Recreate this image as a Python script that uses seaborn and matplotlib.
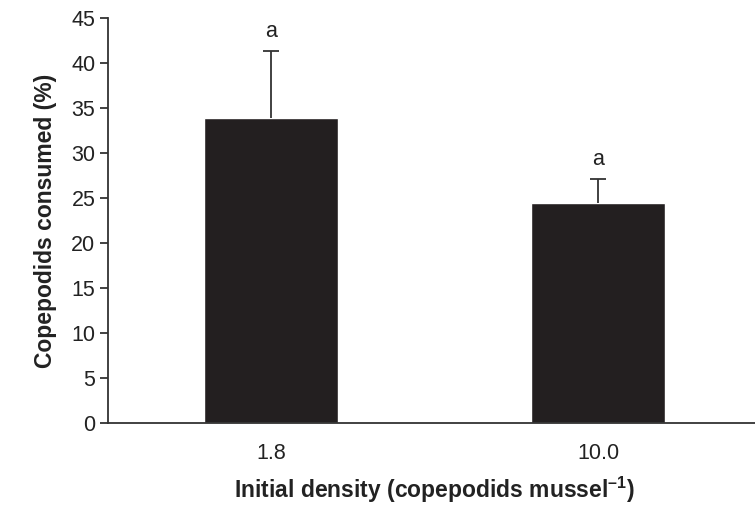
import matplotlib
matplotlib.use("Agg")
import matplotlib.pyplot as plt
import seaborn as sns
import pandas as pd

densities = ["1.8", "10.0"]
consumed = [33.9, 24.5]
err_upper = [7.4, 2.6]
letters = ["a", "a"]

sns.set_style("white")
plt.rcParams["font.family"] = ["Liberation Sans", "DejaVu Sans"]
plt.rcParams["mathtext.fontset"] = "custom"
plt.rcParams["mathtext.rm"] = "Liberation Sans"
plt.rcParams["mathtext.bf"] = "Liberation Sans:bold"

df = pd.DataFrame({"density": densities, "consumed": consumed})

fig = plt.figure(figsize=(7.55, 5.05), dpi=100)
ax = fig.add_axes([0.143, 0.162, 0.866, 0.802])

sns.barplot(data=df, x="density", y="consumed", color="#231f20",
            saturation=1, width=0.41, errorbar=None, ax=ax)
eb = ax.errorbar(range(len(consumed)), consumed,
                 yerr=[[0] * len(consumed), err_upper], fmt="none",
                 ecolor="#333333", elinewidth=1.3, capsize=6, capthick=1.3)
# only the upper whisker, hide the lower cap
eb[1][0].set_visible(False)
for i, (v, e, t) in enumerate(zip(consumed, err_upper, letters)):
    ax.text(i, v + e + 2.2, t, ha="center", va="center", fontsize=15.5, color="#222222")

ax.set_ylim(0, 45)
ax.set_xlim(-0.5, 1.5)
ax.set_yticks(range(0, 46, 5))
ax.set_xticks([-0.5, 0.5, 1.5], minor=True)
ax.tick_params(axis="x", which="major", length=0, pad=14, labelsize=15.5, colors="#222222")
ax.tick_params(axis="x", which="minor", length=6, width=1.3, color="#333333", direction="out")
ax.tick_params(axis="y", length=6, width=1.3, color="#333333", direction="out",
               labelsize=15.5, labelcolor="#222222", left=True, pad=3)

for side in ["top", "right"]:
    ax.spines[side].set_visible(False)
for side in ["left", "bottom"]:
    ax.spines[side].set_color("#333333")
    ax.spines[side].set_linewidth(1.3)

ax.set_xlabel("Initial density (copepodids mussel$^{\\mathbf{\u2013 1}}$)", fontsize=16.5,
              fontweight="bold", labelpad=8, color="#222222")
ax.set_ylabel("Copepodids consumed (%)", fontsize=16.5, fontweight="bold",
              labelpad=10, color="#222222")

fig.savefig("out.png", dpi=100)
